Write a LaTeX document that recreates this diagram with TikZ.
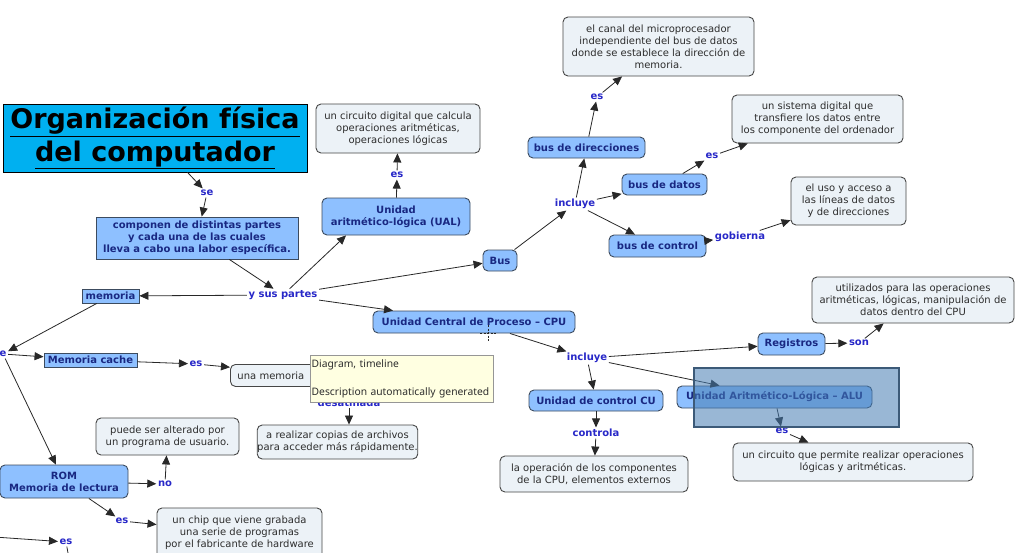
\documentclass[tikz,border=0pt]{standalone}
\usepackage{fontspec}
\setmainfont{DejaVu Sans}
\newfontfamily\tipfont{Noto Sans}
\usetikzlibrary{arrows.meta}
\definecolor{cfill}{RGB}{142,192,255}
\definecolor{cborder}{RGB}{60,75,95}
\definecolor{ctext}{RGB}{25,40,130}
\definecolor{ltext}{RGB}{40,40,200}
\definecolor{dfill}{RGB}{236,242,247}
\definecolor{dborder}{RGB}{70,70,70}
\definecolor{dtext}{RGB}{45,45,45}
\definecolor{tfill}{RGB}{0,176,240}
\definecolor{lcol}{RGB}{40,40,40}
\definecolor{ovfill}{RGB}{70,125,180}
\definecolor{ovborder}{RGB}{60,90,120}
\definecolor{tipfill}{RGB}{255,255,225}
\definecolor{tipborder}{RGB}{150,150,150}
\begin{document}
\begin{tikzpicture}[x=1pt,y=-1pt,
  concept/.style={draw=cborder, fill=cfill, text=ctext, font=\fontsize{10}{12}\selectfont\bfseries,
    rounded corners=5pt, align=center, inner sep=0pt, line width=0.9pt},
  sqconcept/.style={concept, sharp corners},
  desc/.style={draw=dborder, fill=dfill, text=dtext, font=\fontsize{10}{12}\selectfont,
    rounded corners=5pt, align=center, inner sep=0pt, line width=0.9pt},
  lnk/.style={text=ltext, font=\fontsize{10}{12}\selectfont\bfseries, inner sep=1.5pt},
  conn/.style={draw=lcol, line width=0.8pt, -{Triangle[length=9pt,width=8pt]}},
  plain/.style={draw=lcol, line width=0.8pt},
]
\useasboundingbox (0,0) rectangle (1027,552);
\clip (0,0) rectangle (1027,552);
\fill[white] (0,0) rectangle (1027,552);

% title
\node[draw=black, fill=tfill, line width=0.8pt, minimum width=304pt, minimum height=68pt, inner sep=0pt,
  align=center, font=\fontsize{27}{33}\selectfont\bfseries] (title) at (155,138)
  {\underline{Organización física}\\\underline{del computador}};
\node[lnk] (se) at (207,193) {se};
\node[sqconcept, minimum width=202pt, minimum height=42pt] (comp) at (197,238)
  {componen de distintas partes\\ y cada una de las cuales\\lleva a cabo una labor específica.};
\node[lnk] (ysus) at (283,295) {y sus partes};
\node[sqconcept, minimum width=57pt, minimum height=14pt] (mem) at (110.5,296) {memoria};

% UAL
\node[concept, minimum width=148pt, minimum height=37pt] (ual) at (396,216.5) {Unidad\\aritmético-lógica (UAL)};
\node[lnk] (es1) at (397,175) {es};
\node[desc, minimum width=164pt, minimum height=49pt] (ualdesc) at (398,128.5)
  {un circuito digital que calcula\\operaciones aritméticas,\\operaciones lógicas};

% Bus
\node[concept, minimum width=34pt, minimum height=21pt] (bus) at (500,260.5) {Bus};
\node[lnk] (inc1) at (575,204) {incluye};
\node[concept, minimum width=117pt, minimum height=21pt] (busdir) at (586.5,147.5) {bus de direcciones};
\node[lnk] (es2) at (597,97) {es};
\node[desc, minimum width=191pt, minimum height=59pt] (busdirdesc) at (658.5,46.5)
  {el canal del microprocesador\\independiente del bus de datos\\donde se establece la dirección de\\memoria.};
\node[concept, minimum width=85pt, minimum height=21pt] (busdat) at (664.5,184.5) {bus de datos};
\node[lnk] (es3) at (712,156) {es};
\node[desc, minimum width=171pt, minimum height=48pt] (busdatdesc) at (817.5,119)
  {un sistema digital que\\transfiere los datos entre\\los componente del ordenador};
\node[concept, minimum width=97pt, minimum height=22pt] (busctl) at (657.5,246) {bus de control};
\node[lnk] (gob) at (740,237) {gobierna};
\node[desc, minimum width=115pt, minimum height=48pt] (busctldesc) at (848.5,201)
  {el uso y acceso a\\las líneas de datos\\y de direcciones};

% CPU
\node[concept, minimum width=202pt, minimum height=22pt] (cpu) at (474,322) {Unidad Central de Proceso – CPU};
\node[lnk] (inc2) at (587,358) {incluye};
\node[concept, minimum width=67pt, minimum height=22pt] (reg) at (791.5,344) {Registros};
\node[lnk] (son) at (859,343) {son};
\node[desc, minimum width=202pt, minimum height=46pt] (regdesc) at (913,300)
  {utilizados para las operaciones\\aritméticas, lógicas, manipulación de\\datos dentro del CPU};
\node[concept, minimum width=134pt, minimum height=21pt] (cu) at (596,400.5) {Unidad de control CU};
\node[lnk] (ctl) at (596,433) {controla};
\node[desc, minimum width=188pt, minimum height=36pt] (cudesc) at (594,474)
  {la operación de los componentes\\de la CPU, elementos externos};
\node[concept, minimum width=195pt, minimum height=22pt] (alu) at (774.5,397) {Unidad Aritmético-Lógica – ALU};
\node[lnk] (es4) at (782,431) {es};
\node[desc, minimum width=240pt, minimum height=38pt] (aludesc) at (853,462)
  {un circuito que permite realizar operaciones\\lógicas y aritméticas.};

% memory branch
\node[lnk] (e) at (3,354) {e};
\node[sqconcept, minimum width=93pt, minimum height=14pt] (cache) at (90.5,360) {Memoria cache};
\node[lnk] (es5) at (196,364) {es};
\node[desc, anchor=north west, minimum width=170pt, minimum height=22pt, text width=160pt, align=left,
  inner xsep=7pt] (memdesc) at (230,364) {una memoria};
\node[lnk] (desat) at (349,402.5) {desatinada};
\node[desc, minimum width=153pt, minimum height=34pt] (copias) at (337.5,442)
  {a realizar copias de archivos\\para acceder más rápidamente.};
\node[concept, minimum width=128pt, minimum height=33pt] (rom) at (64,481.5) {ROM\\Memoria de lectura};
\node[lnk] (no) at (165,484) {no};
\node[desc, minimum width=143pt, minimum height=37pt] (puede) at (167.5,436.5)
  {puede ser alterado por\\un programa de usuario.};
\node[lnk] (es6) at (122,521) {es};
\node[desc, minimum width=165pt, minimum height=50pt] (chip) at (239.5,533)
  {un chip que viene grabada\\una serie de programas\\por el fabricante de hardware};
\node[lnk] (es7) at (66,542) {es};
\coordinate (offl) at (-20,536);
\coordinate (offb) at (72,575);

% connectors
\draw[conn] (title) -- (se);
\draw[conn] (se) -- (comp);
\draw[conn] (comp) -- (ysus);
\draw[conn] (ysus) -- (mem);
\draw[conn] (ysus) -- ([xshift=-50pt]ual.south);
\draw[conn] (ysus) -- (bus);
\draw[conn] (ysus) -- (cpu);
\draw[conn] (ual) -- (es1);
\draw[conn] (es1) -- (ualdesc);
\draw[conn] (bus) -- (inc1);
\draw[conn] (inc1) -- (busdir);
\draw[conn] (inc1) -- (busdat);
\draw[conn] (inc1) -- (busctl);
\draw[conn] (busdir) -- (es2);
\draw[conn] (es2) -- (busdirdesc);
\draw[conn] (busdat) -- (es3);
\draw[conn] (es3) -- (busdatdesc);
\draw[conn] (busctl) -- (gob);
\draw[conn] (gob) -- (busctldesc);
\draw[conn] (cpu) -- (inc2);
\draw[conn] (inc2) -- (reg);
\draw[conn] (inc2) -- (cu);
\draw[conn] (inc2) -- (alu);
\draw[conn] (reg) -- (son);
\draw[conn] (son) -- (regdesc);
\draw[conn] (cu) -- (ctl);
\draw[conn] (ctl) -- (cudesc);
\draw[conn] (alu) -- (es4);
\draw[conn] (es4) -- (aludesc);
\draw[conn] (mem) -- (e);
\draw[conn] (e) -- (cache);
\draw[conn] (e) -- (rom);
\draw[conn] (cache) -- (es5);
\draw[conn] (es5) -- (memdesc);
\draw[conn] (desat.south) -- (desat.south |- copias.north);
\draw[conn] (rom) -- (no);
\draw[conn] (no) -- (puede);
\draw[conn] (rom) -- (es6);
\draw[conn] (es6) -- (chip);
\draw[conn] (offl) -- (es7);
\draw[plain] (es7) -- (offb);

% selection overlay on ALU
\node[draw=ovborder, fill=ovfill, fill opacity=0.55, line width=1.5pt, anchor=north west,
  minimum width=205pt, minimum height=59pt, inner sep=0pt] (overlay) at (693,367) {};

% cursor
\draw[lcol, line width=0.6pt, dash pattern=on 2pt off 1.5pt] (488,325) -- (488,341) (480,333) -- (496,333);

% tooltip
\node[draw=tipborder, fill=tipfill, anchor=north west, minimum width=182pt, minimum height=47pt,
  text width=180pt, inner xsep=1.5pt, inner ysep=3pt, align=left, text=dtext,
  font=\tipfont\fontsize{10.3}{14}\selectfont] (tip) at (310,355)
  {Diagram, timeline\\[14pt]Description automatically generated};
\end{tikzpicture}
\end{document}
